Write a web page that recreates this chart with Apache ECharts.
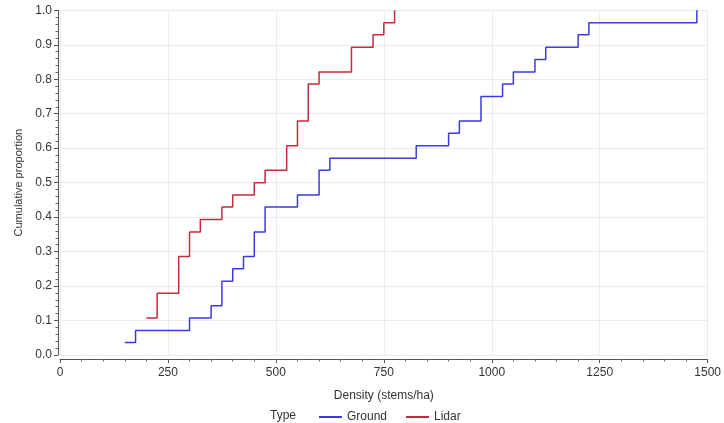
<!DOCTYPE html>
<html>
<head>
<meta charset="utf-8">
<script src="https://cdn.jsdelivr.net/npm/echarts@6/dist/echarts.min.js"></script>
<style>
  html, body { margin: 0; padding: 0; background: #fff; }
  #chart { width: 724px; height: 423px; }
</style>
</head>
<body>
<div id="chart"></div>
<script>
// Empirical cumulative distributions of stem density (stems/ha)
// Ground plots: density at each step and the cumulative proportion reached there
const groundDensity = [150, 175, 300, 350, 375, 400, 425, 450, 475, 550, 600, 625,
                       825, 900, 925, 975, 1025, 1050, 1100, 1125, 1200, 1225, 1475];
const groundProportion = [0.036, 0.071, 0.107, 0.143, 0.214, 0.250, 0.286, 0.357, 0.429, 0.464, 0.536, 0.571,
                          0.607, 0.643, 0.679, 0.750, 0.786, 0.821, 0.857, 0.893, 0.929, 0.964, 1.000];

// Lidar estimates
const lidarDensity = [200, 225, 275, 300, 325, 375, 400, 450, 475, 525, 550, 575, 600, 675, 725, 750, 775];
const lidarProportion = [0.107, 0.179, 0.286, 0.357, 0.393, 0.429, 0.464, 0.500, 0.536, 0.607, 0.679,
                         0.786, 0.821, 0.893, 0.929, 0.964, 1.000];

const xTicks = [0, 250, 500, 750, 1000, 1250, 1500];
const yTicks = [0.0, 0.1, 0.2, 0.3, 0.4, 0.5, 0.6, 0.7, 0.8, 0.9, 1.0];

const GROUND_COLOR = '#3a3ade';
const LIDAR_COLOR = '#c42a3c';
const TEXT_COLOR = '#333333';
const FONT = 'Liberation Sans, Arial, sans-serif';

const pairs = (xs, ys) => xs.map((x, i) => [x, ys[i]]);

const chart = echarts.init(document.getElementById('chart'), null, { renderer: 'canvas' });

chart.setOption({
  animation: false,
  backgroundColor: '#ffffff',
  textStyle: { fontFamily: FONT },
  grid: { left: 60, right: 9.5, top: 10.3, bottom: 68, containLabel: false },
  xAxis: {
    type: 'value',
    min: xTicks[0],
    max: xTicks[xTicks.length - 1],
    interval: 250,
    offset: 4,
    name: 'Density (stems/ha)',
    nameLocation: 'middle',
    nameGap: 31,
    nameTextStyle: { color: TEXT_COLOR, fontSize: 12, fontFamily: FONT },
    axisLine: { show: true, onZero: false, lineStyle: { color: '#555', width: 1 } },
    axisTick: { show: true, length: 4, lineStyle: { color: '#555' } },
    minorTick: { show: true, splitNumber: 5, length: 2.5, lineStyle: { color: '#666' } },
    axisLabel: {
      color: TEXT_COLOR, fontSize: 12, margin: 8, fontFamily: FONT,
      formatter: v => (xTicks.includes(v) ? String(v) : '')
    },
    splitLine: { show: true, lineStyle: { color: '#ebebeb', width: 1 } }
  },
  yAxis: {
    type: 'value',
    min: yTicks[0],
    max: yTicks[yTicks.length - 1],
    interval: 0.1,
    offset: 2,
    name: 'Cumulative proportion',
    nameLocation: 'middle',
    nameGap: 34,
    nameRotate: 90,
    nameTextStyle: { color: TEXT_COLOR, fontSize: 11, fontFamily: FONT },
    axisLine: { show: true, onZero: false, lineStyle: { color: '#555', width: 1 } },
    axisTick: { show: true, length: 4, lineStyle: { color: '#555' } },
    minorTick: { show: true, splitNumber: 5, length: 2.5, lineStyle: { color: '#666' } },
    axisLabel: {
      color: TEXT_COLOR, fontSize: 12, margin: 6, fontFamily: FONT,
      formatter: v => v.toFixed(1)
    },
    splitLine: { show: true, lineStyle: { color: '#ebebeb', width: 1 } }
  },
  legend: {
    left: 314,
    top: 406,
    itemWidth: 23,
    itemHeight: 2,
    itemGap: 19,
    icon: 'rect',
    textStyle: { color: TEXT_COLOR, fontSize: 12, fontFamily: FONT },
    data: ['Ground', 'Lidar']
  },
  graphic: [{
    type: 'text',
    left: 270,
    top: 410,
    style: { text: 'Type', fill: TEXT_COLOR, font: '12px ' + FONT }
  }],
  series: [
    {
      name: 'Ground',
      type: 'line',
      step: 'end',
      showSymbol: false,
      symbol: 'none',
      color: GROUND_COLOR,
      lineStyle: { color: GROUND_COLOR, width: 1.5 },
      data: pairs(groundDensity, groundProportion)
    },
    {
      name: 'Lidar',
      type: 'line',
      step: 'end',
      showSymbol: false,
      symbol: 'none',
      color: LIDAR_COLOR,
      lineStyle: { color: LIDAR_COLOR, width: 1.5 },
      data: pairs(lidarDensity, lidarProportion)
    }
  ]
});
</script>
</body>
</html>
